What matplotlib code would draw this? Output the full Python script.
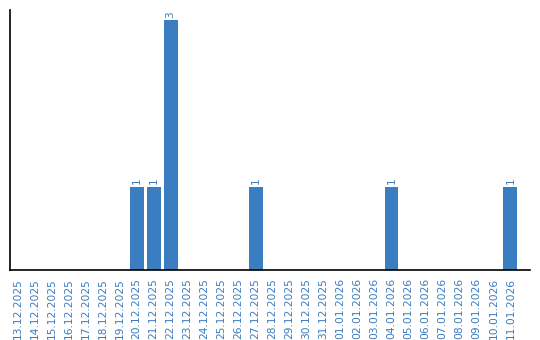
import matplotlib.pyplot as plt
import numpy as np

dates = ["13.12.2025", "14.12.2025", "15.12.2025", "16.12.2025", "17.12.2025",
         "18.12.2025", "19.12.2025", "20.12.2025", "21.12.2025", "22.12.2025",
         "23.12.2025", "24.12.2025", "25.12.2025", "26.12.2025", "27.12.2025",
         "28.12.2025", "29.12.2025", "30.12.2025", "31.12.2025", "01.01.2026",
         "02.01.2026", "03.01.2026", "04.01.2026", "05.01.2026", "06.01.2026",
         "07.01.2026", "08.01.2026", "09.01.2026", "10.01.2026", "11.01.2026"]
counts = [0, 0, 0, 0, 0, 0, 0, 1, 1, 3,
          0, 0, 0, 0, 1, 0, 0, 0, 0, 0,
          0, 0, 1, 0, 0, 0, 0, 0, 0, 1]

bar_color = "#3a7dc0"
text_color = "#3a7bbf"

fig = plt.figure(figsize=(5.4, 3.4), dpi=100)
ax = fig.add_axes([10/540, 70/340, 520/540, 260/340])

x = np.arange(len(dates))
ax.bar(x, counts, width=0.82, color=bar_color)

for xi, v in zip(x, counts):
    if v > 0:
        ax.text(xi, v + 0.03, str(v), rotation=90, ha="center", va="bottom",
                fontsize=7.5, color=text_color)

ax.set_xlim(-0.45, 30.15)
ax.set_ylim(0, 3.12)
ax.set_xticks(x)
ax.set_xticklabels(dates, rotation=90, fontsize=7.7, color=text_color)
ax.tick_params(axis="x", length=0, pad=6)
ax.set_yticks([])
ax.spines["top"].set_visible(False)
ax.spines["right"].set_visible(False)
ax.spines["left"].set_linewidth(1.2)
ax.spines["bottom"].set_linewidth(1.2)

plt.savefig("out.png", dpi=100)
